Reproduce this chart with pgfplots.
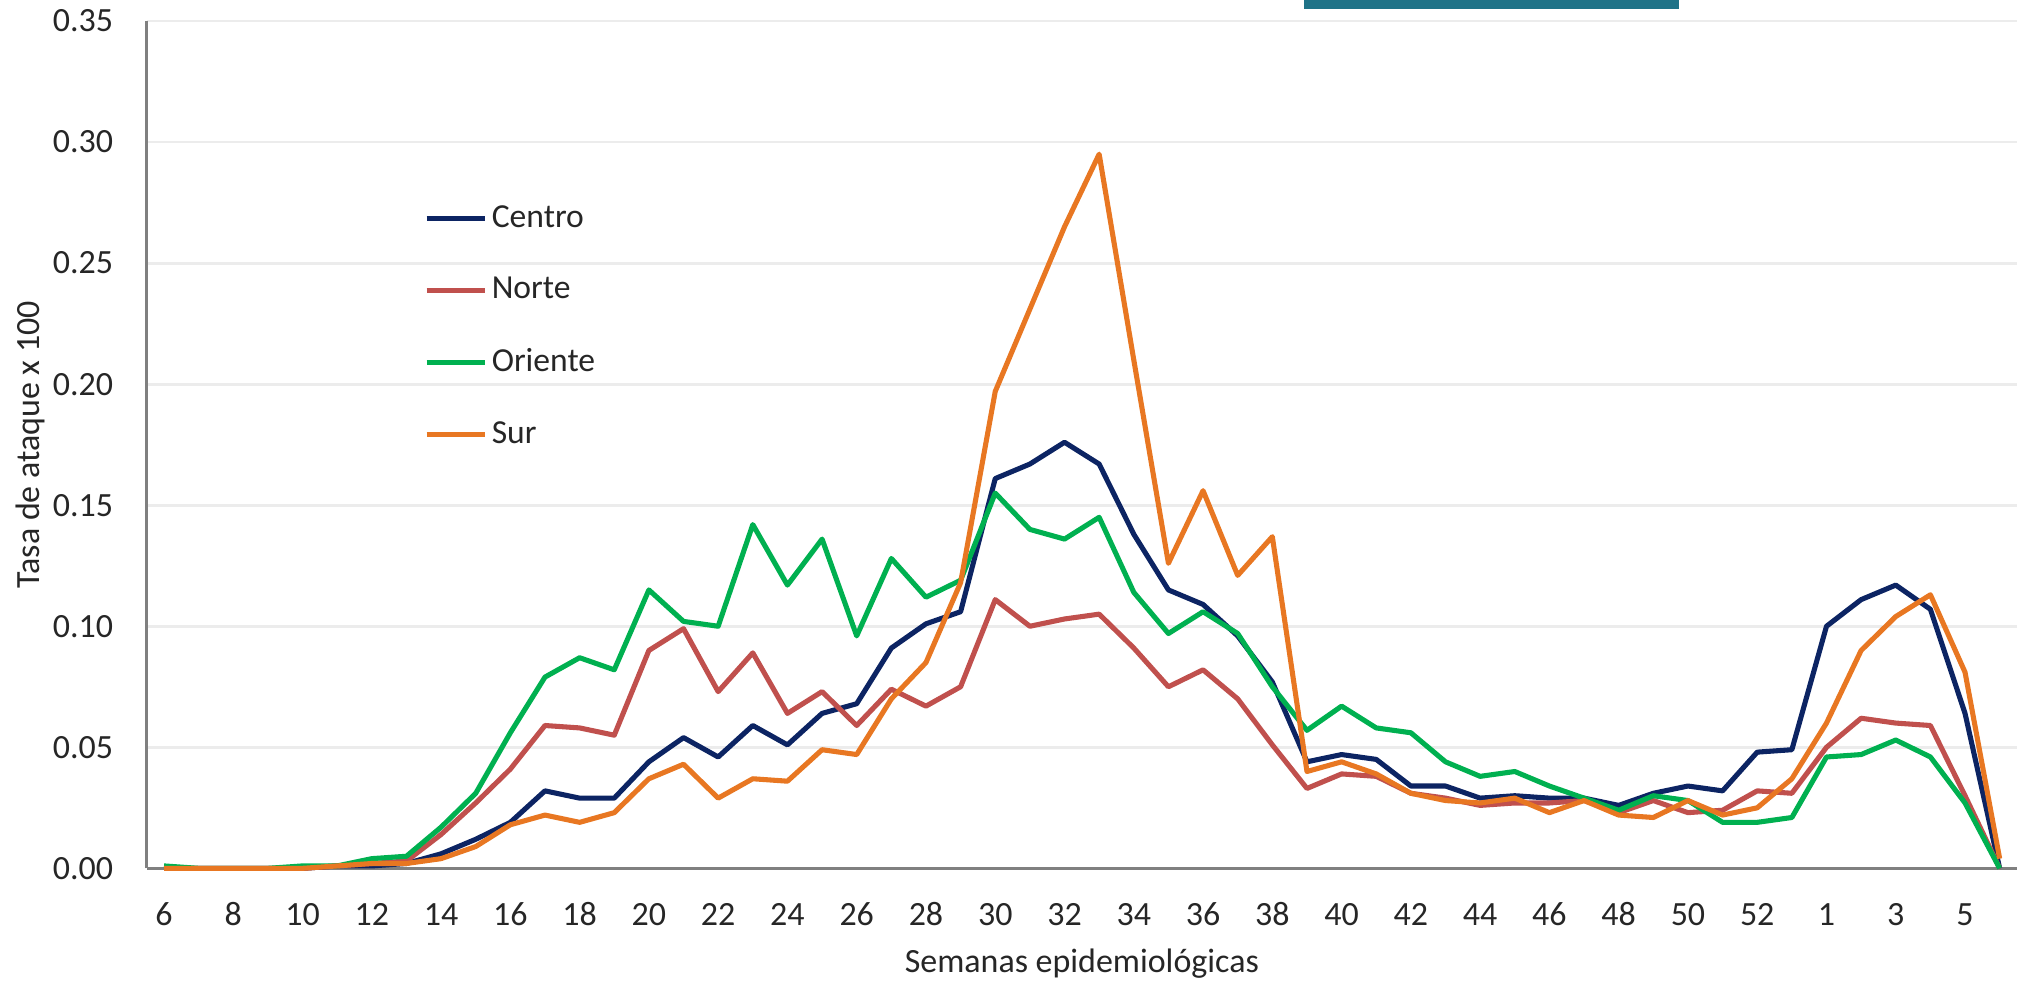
\documentclass[border=0pt]{standalone}
\usepackage{fontspec}
\setmainfont{Carlito}
\usepackage{pgfplots}
\pgfplotsset{compat=1.18}
\usepackage{pgfplotstable}

\definecolor{cCentro}{RGB}{12,36,99}
\definecolor{cNorte}{RGB}{192,80,77}
\definecolor{cOriente}{RGB}{0,176,80}
\definecolor{cSur}{RGB}{232,119,34}
\definecolor{cGrid}{RGB}{236,236,236}
\definecolor{cAxis}{RGB}{128,128,128}
\definecolor{cTeal}{RGB}{31,115,136}
\definecolor{cText}{RGB}{38,38,38}

% i = category index; weeks 6..53, then 1..6
\pgfplotstableread{
i  wk  C      N      O      S
0  6   0.000  0.000  0.001  0.000
1  7   0.000  0.000  0.000  0.000
2  8   0.000  0.000  0.000  0.000
3  9   0.000  0.000  0.000  0.000
4  10  0.000  0.000  0.001  0.000
5  11  0.001  0.001  0.001  0.001
6  12  0.001  0.002  0.004  0.002
7  13  0.002  0.003  0.005  0.002
8  14  0.006  0.014  0.017  0.004
9  15  0.012  0.027  0.031  0.009
10 16  0.019  0.041  0.056  0.018
11 17  0.032  0.059  0.079  0.022
12 18  0.029  0.058  0.087  0.019
13 19  0.029  0.055  0.082  0.023
14 20  0.044  0.090  0.115  0.037
15 21  0.054  0.099  0.102  0.043
16 22  0.046  0.073  0.100  0.029
17 23  0.059  0.089  0.142  0.037
18 24  0.051  0.064  0.117  0.036
19 25  0.064  0.073  0.136  0.049
20 26  0.068  0.059  0.096  0.047
21 27  0.091  0.074  0.128  0.070
22 28  0.101  0.067  0.112  0.085
23 29  0.106  0.075  0.119  0.118
24 30  0.161  0.111  0.155  0.197
25 31  0.167  0.100  0.140  0.231
26 32  0.176  0.103  0.136  0.265
27 33  0.167  0.105  0.145  0.295
28 34  0.138  0.091  0.114  0.210
29 35  0.115  0.075  0.097  0.126
30 36  0.109  0.082  0.106  0.156
31 37  0.096  0.070  0.097  0.121
32 38  0.077  0.051  0.075  0.137
33 39  0.044  0.033  0.057  0.040
34 40  0.047  0.039  0.067  0.044
35 41  0.045  0.038  0.058  0.039
36 42  0.034  0.031  0.056  0.031
37 43  0.034  0.029  0.044  0.028
38 44  0.029  0.026  0.038  0.027
39 45  0.030  0.027  0.040  0.029
40 46  0.029  0.027  0.034  0.023
41 47  0.029  0.028  0.029  0.028
42 48  0.026  0.023  0.024  0.022
43 49  0.031  0.028  0.030  0.021
44 50  0.034  0.023  0.028  0.028
45 51  0.032  0.024  0.019  0.022
46 52  0.048  0.032  0.019  0.025
47 53  0.049  0.031  0.021  0.037
48 1   0.100  0.050  0.046  0.060
49 2   0.111  0.062  0.047  0.090
50 3   0.117  0.060  0.053  0.104
51 4   0.107  0.059  0.046  0.113
52 5   0.064  0.030  0.027  0.081
53 6   0.000  0.000  0.000  0.004
}\datatable

\begin{document}
\begin{tikzpicture}
\path[use as bounding box] (-41.91pt,-33.91pt) rectangle (536.94pt,248.09pt);
\begin{axis}[
  at={(0,0)}, anchor=south west,
  scale only axis, width=534.37pt, height=242.09pt,
  xmin=-0.5, xmax=53.5, ymin=0, ymax=0.35,
  clip=false,
  axis x line=bottom, axis y line=left,
  axis line style={-, draw=cAxis, line width=0.8pt},
  xtick={0,2,...,52},
  xticklabels={6,8,10,12,14,16,18,20,22,24,26,28,30,32,34,36,38,40,42,44,46,48,50,52,1,3,5},
  ytick={0,0.05,0.10,0.15,0.20,0.25,0.30,0.35},
  yticklabels={0.00,0.05,0.10,0.15,0.20,0.25,0.30,0.35},
  major tick length=0pt,
  tick style={draw=none},
  ymajorgrids, major grid style={draw=cGrid, line width=0.8pt},
  yticklabel shift=9.4pt,
  xticklabel style={font=\fontsize{9.7}{11}\selectfont, text=cText, inner sep=0pt, anchor=north, text height=16.1pt, text depth=0pt},
  yticklabel style={font=\fontsize{9.7}{11}\selectfont, text=cText, inner sep=0pt, anchor=east},
  xlabel={Semanas epidemiológicas},
  ylabel={Tasa de ataque x 100},
  every axis x label/.style={at={(axis description cs:0.5,0)}, anchor=base, yshift=-29.9pt, font=\fontsize{9.7}{11}\selectfont, text=cText, inner sep=0pt},
  every axis y label/.style={at={(axis description cs:-0.0623,0.5)}, anchor=center, rotate=90, font=\fontsize{9.7}{11}\selectfont, text=cText, inner sep=0pt},
  legend cell align=left,
  legend style={at={(axis description cs:0.1483,0.7825)}, anchor=north west, draw=none, fill=none, inner sep=0pt, outer sep=0pt, row sep=12.75pt, nodes={inner sep=0pt, font=\fontsize{9.6}{11}\selectfont, text=cText}, /tikz/every odd column/.append style={column sep=1.3pt}},
  legend image code/.code={\draw[#1] (0pt,0pt) -- (16.6pt,0pt);},
  every axis plot/.append style={line width=1.45pt, line join=round},
]
\addplot[cCentro, mark=none] table[x=i,y=C]{\datatable};
\addlegendentry{Centro}
\addplot[cNorte, mark=none] table[x=i,y=N]{\datatable};
\addlegendentry{Norte}
\addplot[cOriente, mark=none] table[x=i,y=O]{\datatable};
\addlegendentry{Oriente}
\addplot[cSur, mark=none] table[x=i,y=S]{\datatable};
\addlegendentry{Sur}
\end{axis}
\fill[cTeal] (330.7pt,245.4pt) rectangle (437.8pt,249pt);
\end{tikzpicture}
\end{document}
